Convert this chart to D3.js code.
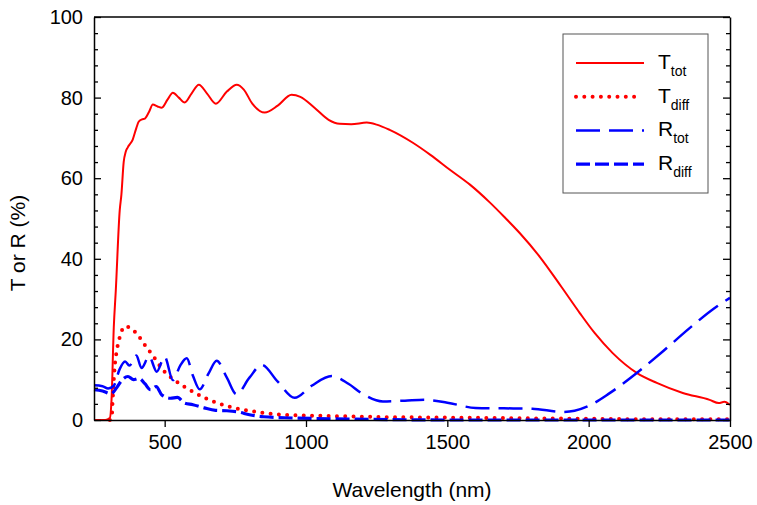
<!DOCTYPE html>
<html>
<head>
<meta charset="utf-8">
<script src="https://cdn.jsdelivr.net/npm/d3@7"></script>
<style>
  body { margin: 0; background: #fff; }
  svg text { font-family: "Liberation Sans", Arial, sans-serif; fill: #000; }
</style>
</head>
<body>
<script>
// total transmittance
const tTotWl  = [250, 290, 306, 312, 320, 327, 341, 347, 355, 362, 369, 387, 400, 408, 420, 430, 445, 458, 475, 490, 510, 529, 550, 571, 595, 621, 650, 681, 720, 755, 780, 810, 854, 900, 949, 980, 1030, 1080, 1119, 1160, 1215, 1250, 1296, 1378, 1440, 1509, 1580, 1650, 1700, 1756, 1827, 1904, 1968, 2021, 2085, 2170, 2241, 2333, 2428, 2460, 2480, 2500];
const tTotVal = [0, 0, 0.5, 5, 23, 32, 52, 56, 64, 66.5, 67.6, 69.6, 72.5, 74, 74.6, 74.8, 76.5, 78.3, 77.8, 77.5, 79.5, 81.2, 80, 78.8, 81, 83.2, 81, 78.5, 81.5, 83.2, 82, 78.5, 76.3, 78, 80.7, 80.2, 77.5, 74.5, 73.5, 73.4, 73.8, 73.3, 72, 68.8, 65.8, 62.1, 58.4, 54, 50.5, 46.4, 40.5, 33, 26.6, 21.6, 16.6, 11.7, 9.2, 6.7, 5, 4.2, 4.5, 3.7];

// diffuse transmittance
const tDiffWl  = [306, 313, 316, 323, 330, 337, 345, 358, 376, 400, 430, 465, 494, 535, 578, 642, 719, 825, 854, 950, 1073, 1300, 1500, 1800, 2000, 2200, 2490, 2500];
const tDiffVal = [0, 1, 5, 13, 17, 19.4, 21.5, 23.2, 23, 21.5, 18.6, 15.3, 12.4, 9.9, 7.9, 5.5, 3.5, 2.0, 1.7, 1.2, 1.0, 0.7, 0.6, 0.4, 0.3, 0.2, 0.2, 1.2];

// total reflectance
const rTotWl  = [250, 280, 300, 320, 340, 360, 375, 400, 418, 445, 472, 500, 529, 555, 578, 600, 624, 655, 684, 720, 754, 800, 843, 900, 960, 1020, 1091, 1150, 1200, 1272, 1350, 1420, 1500, 1600, 1700, 1800, 1908, 1950, 2000, 2073, 2169, 2262, 2357, 2452, 2500];
const rTotVal = [8.6, 8.4, 7.8, 8.5, 12.5, 14.5, 13.5, 16, 12.9, 15.8, 12, 15.7, 9.9, 13.5, 15.3, 11, 7.6, 11.5, 14.7, 10.5, 6.4, 10.5, 13.7, 9.5, 5.5, 8.5, 10.9, 9, 6.5, 4.6, 4.8, 5.0, 4.3, 3.0, 2.9, 2.8, 2.0, 2.3, 3.5, 6.6, 11.6, 17, 22.8, 28.1, 30.3];

// diffuse reflectance
const rDiffWl  = [250, 280, 310, 330, 350, 370, 390, 410, 430, 450, 470, 490, 520, 545, 570, 600, 640, 680, 720, 760, 800, 850, 950, 1100, 1300, 1500, 2500];
const rDiffVal = [7.5, 7.2, 6.5, 8, 10, 10.8, 10, 10.3, 9, 7.5, 8.3, 6.2, 5.4, 5.6, 4.2, 3.8, 3.0, 2.4, 2.3, 2.0, 1.3, 0.8, 0.5, 0.3, 0.1, 0, 0];

const xTicks = [500, 1000, 1500, 2000, 2500];
const yTicks = [0, 20, 40, 60, 80, 100];

const W = 757, H = 505;
const mLeft = 94, mRight = 730, mTop = 17, mBottom = 420;

const svg = d3.select('body').append('svg')
    .attr('width', W)
    .attr('height', H);

const x = d3.scaleLinear().domain([250, 2500]).range([mLeft, mRight]);
const y = d3.scaleLinear().domain([0, 100]).range([mBottom, mTop]);

function zip(a, b) { return a.map((v, i) => [v, b[i]]); }

const line = d3.line()
    .x(d => x(d[0]))
    .y(d => y(d[1]))
    .curve(d3.curveMonotoneX);

const series = [
  { name: 'T', sub: 'tot',  data: zip(tTotWl, tTotVal),   color: '#ff0000', width: 2,   dash: null,     cap: 'butt' },
  { name: 'T', sub: 'diff', data: zip(tDiffWl, tDiffVal), color: '#ff0000', width: 4,   dash: '0 8.3',  cap: 'round' },
  { name: 'R', sub: 'tot',  data: zip(rTotWl, rTotVal),   color: '#0000ff', width: 2.5, dash: '24 9',   cap: 'butt' },
  { name: 'R', sub: 'diff', data: zip(rDiffWl, rDiffVal), color: '#0000ff', width: 3.2, dash: '14 5',   cap: 'butt' }
];

const plot = svg.append('g');
series.forEach(s => {
  plot.append('path')
    .attr('d', line(s.data))
    .attr('fill', 'none')
    .attr('stroke', s.color)
    .attr('stroke-width', s.width)
    .attr('stroke-dasharray', s.dash)
    .attr('stroke-linecap', s.cap);
});

// axes
const xAxis = svg.append('g')
    .attr('transform', `translate(0,${mBottom})`)
    .call(d3.axisBottom(x).tickValues(xTicks).tickFormat(d3.format('d')).tickSize(7).tickPadding(8).tickSizeOuter(0));
xAxis.selectAll('text').style('font-size', '20px');

const yAxis = svg.append('g')
    .attr('transform', `translate(${mLeft},0)`)
    .call(d3.axisLeft(y).tickValues(yTicks).tickSize(-7).tickPadding(11).tickSizeOuter(0));
yAxis.selectAll('text').style('font-size', '20px');

const minor = d3.range(0, 101, 4).filter(v => v % 20 !== 0);
svg.append('g')
    .attr('transform', `translate(${mLeft},0)`)
    .call(d3.axisLeft(y).tickValues(minor).tickSize(-4).tickFormat('').tickSizeOuter(0))
    .select('.domain').remove();

svg.append('g')
    .attr('transform', `translate(${mRight},0)`)
    .call(d3.axisRight(y).tickValues(yTicks).tickSize(-7).tickFormat('').tickSizeOuter(0));
svg.append('g')
    .attr('transform', `translate(${mRight},0)`)
    .call(d3.axisRight(y).tickValues(minor).tickSize(-4).tickFormat('').tickSizeOuter(0))
    .select('.domain').remove();

svg.append('line')
    .attr('x1', mLeft).attr('x2', mRight)
    .attr('y1', mTop).attr('y2', mTop)
    .attr('stroke', '#000').attr('stroke-width', 1.5);

svg.selectAll('.domain').attr('stroke-width', 1.5);
svg.selectAll('.tick line').attr('stroke-width', 1.3);

// axis titles
svg.append('text')
    .attr('x', (mLeft + mRight) / 2)
    .attr('y', 497)
    .attr('text-anchor', 'middle')
    .style('font-size', '21px')
    .text('Wavelength (nm)');

svg.append('text')
    .attr('transform', 'translate(25,243) rotate(-90)')
    .attr('text-anchor', 'middle')
    .style('font-size', '21px')
    .text('T or R (%)');

// legend
const lg = svg.append('g');
lg.append('rect')
    .attr('x', 563).attr('y', 34)
    .attr('width', 145).attr('height', 159)
    .attr('fill', '#fff')
    .attr('stroke', '#555')
    .attr('stroke-width', 1);

series.forEach((s, i) => {
  const ly = 63 + i * 33.7;
  lg.append('line')
    .attr('x1', 576).attr('x2', s.dash === '0 8.3' ? 637 : 644)
    .attr('y1', ly).attr('y2', ly)
    .attr('stroke', s.color)
    .attr('stroke-width', s.width)
    .attr('stroke-dasharray', s.dash)
    .attr('stroke-linecap', s.cap);
  const t = lg.append('text')
    .attr('x', 658)
    .attr('y', ly + 6)
    .style('font-size', '21px');
  t.append('tspan').text(s.name);
  t.append('tspan')
    .attr('dy', 7)
    .style('font-size', '14px')
    .text(s.sub);
});
</script>
</body>
</html>
